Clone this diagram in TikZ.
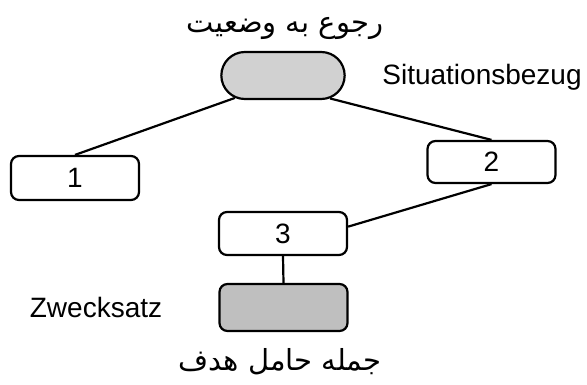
\documentclass[tikz,border=0pt]{standalone}
\usepackage{fontspec}
\setmainfont{Liberation Sans}
\newfontfamily\arabicfont[Script=Arabic]{DejaVu Sans}
\TeXXeTstate=1
\usetikzlibrary{shapes.misc}

\definecolor{pillgray}{gray}{0.82}
\definecolor{boxgray}{gray}{0.75}

\tikzset{
	box/.style={draw, line width=2.2pt, rounded corners=8pt, minimum width=128pt, minimum height=44pt, inner sep=0pt, font=\fontsize{28}{32}\selectfont},
	pill/.style={draw, line width=2.2pt, rounded rectangle, fill=pillgray, minimum width=130pt, minimum height=47pt},
	lbl/.style={anchor=base, inner sep=0pt, font=\fontsize{28}{32}\selectfont},
	fa/.style={anchor=base, inner sep=0pt, font=\fontsize{29}{34}\arabicfont}
}

\begin{document}
\begin{tikzpicture}[x=1pt, y=-1pt]
	\useasboundingbox (0,0) rectangle (587,385);

	\node[pill] (top) at (283,75.5) {};
	\node[box] (n1) at (75,178) {1};
	\node[box, minimum height=42pt] (n2) at (491.5,162) {2};
	\node[box, minimum height=43pt] (n3) at (283,233.5) {3};
	\node[box, fill=boxgray, minimum height=47pt] (goal) at (283.5,307.5) {};

	\node[fa] (topfa) at (285,33) {\beginR رجوع به وضعیت\endR};
	\node[lbl] (topde) at (482,85) {Situationsbezug};
	\node[lbl] (goalde) at (96,317) {Zwecksatz};
	\node[fa] (goalfa) at (280,370) {\beginR جمله حامل هدف\endR};

	\draw [line width=2.2pt]
		(top.205) edge (n1.north)
		(top.334) edge (n2.north)
		(n2.south) edge (n3.6)
		(n3.south) edge (goal.north)
		;
\end{tikzpicture}
\end{document}
